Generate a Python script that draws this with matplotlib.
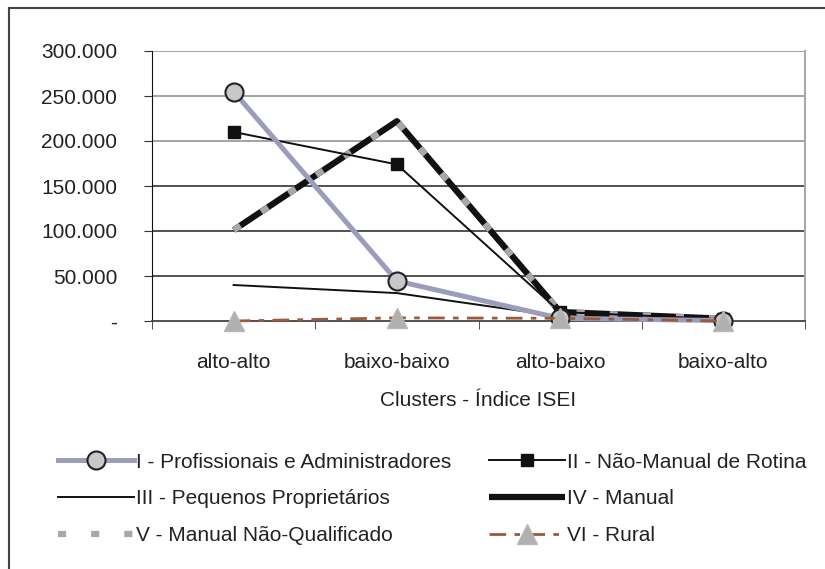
import matplotlib
matplotlib.use('Agg')
import matplotlib.pyplot as plt
from matplotlib.lines import Line2D

plt.rcParams['font.family'] = ['Liberation Sans', 'DejaVu Sans']

clusters = ['alto-alto', 'baixo-baixo', 'alto-baixo', 'baixo-alto']
y_ticks = [0, 50000, 100000, 150000, 200000, 250000, 300000]
y_tick_labels = ['-', '50.000', '100.000', '150.000', '200.000', '250.000', '300.000']

prof_admin = [255000, 44500, 3000, 500]
nao_manual = [210000, 174000, 10000, 2000]
peq_prop = [40000, 31000, 5000, 1000]
manual = [101000, 222000, 10000, 2500]
manual_nq = [101000, 222000, 10000, 2500]
rural = [0, 3500, 3000, 0]

labels = ['I - Profissionais e Administradores', 'II - Não-Manual de Rotina',
          'III - Pequenos Proprietários', 'IV - Manual',
          'V - Manual Não-Qualificado', 'VI - Rural']

FS = 15
TXT = '#222222'

fig = plt.figure(figsize=(8.25, 5.69), dpi=100)
ax = fig.add_axes([152 / 825, 1 - 321 / 569, 653 / 825, 270 / 569])

x = list(range(len(clusters)))

# gridlines: upper ones grey, lower ones dark (as in the scan)
for v in y_ticks[1:]:
    ax.axhline(v, color='#8a8a8a' if v >= 200000 else '#222222', lw=1.1, zorder=0)

l3, = ax.plot(x, peq_prop, color='#111111', lw=1.4, zorder=3)
l4, = ax.plot(x, manual, color='#111111', lw=4.5, zorder=4, solid_capstyle='butt')
l5, = ax.plot(x, manual_nq, color='#a8a8a8', lw=4.5, zorder=5,
              linestyle=(0, (1.3, 4.0)), dash_capstyle='butt')
l2, = ax.plot(x, nao_manual, color='#111111', lw=1.4, marker='s', ms=8.5,
              mfc='#111111', mec='#111111', zorder=6)
l1, = ax.plot(x, prof_admin, color='#9c9cbc', lw=3.6, marker='o', ms=13,
              mfc='#c8c8c8', mec='#222222', mew=1.5, zorder=7, clip_on=False)
l6, = ax.plot(x, rural, color='#9b5a3c', lw=2, linestyle=(0, (6, 3, 2, 3)),
              marker='^', ms=14, mfc='#b0b0b0', mec='#b8b8b8', zorder=8,
              clip_on=False)

ax.set_xlim(-0.5, len(clusters) - 0.5)
ax.set_ylim(0, 300000)
ax.set_yticks(y_ticks)
ax.set_yticklabels(y_tick_labels, fontsize=FS, color=TXT)
ax.set_xticks(x)
ax.set_xticklabels(clusters, fontsize=FS, color=TXT)
ax.set_xticks([i - 0.5 for i in range(len(clusters) + 1)], minor=True)
ax.tick_params(axis='x', which='major', length=0, pad=23)
ax.tick_params(axis='x', which='minor', length=6, direction='out', color='#333333')
ax.tick_params(axis='y', length=6, direction='out', pad=19, color='#333333')

ax.spines['left'].set_color('#111111')
ax.spines['bottom'].set_color('#444444')
ax.spines['bottom'].set_linewidth(1.3)
ax.spines['top'].set_visible(False)
ax.spines['right'].set_color('#aaaaaa')
ax.spines['right'].set_linewidth(1.5)

ax.set_xlabel('Clusters - Índice ISEI', fontsize=FS, color=TXT, labelpad=14)

handles = [l1, l3, l5, l2, l4, l6]
order = [0, 2, 4, 1, 3, 5]
fig.legend(handles, [labels[i] for i in order], ncol=2, frameon=False,
           fontsize=FS, loc='upper left', bbox_to_anchor=(39 / 825, 1 - 434 / 569),
           handlelength=3.65, handletextpad=0.1, columnspacing=1.8,
           labelspacing=0.85, labelcolor=TXT)

# outer frame (only top and left edges visible in the scan)
fig.add_artist(Line2D([9 / 825, 1], [1 - 8 / 569, 1 - 8 / 569],
                      transform=fig.transFigure, color='#444444', lw=1.5))
fig.add_artist(Line2D([9 / 825, 9 / 825], [0, 1 - 8 / 569],
                      transform=fig.transFigure, color='#444444', lw=1.5))

fig.savefig('out.png', dpi=100)
